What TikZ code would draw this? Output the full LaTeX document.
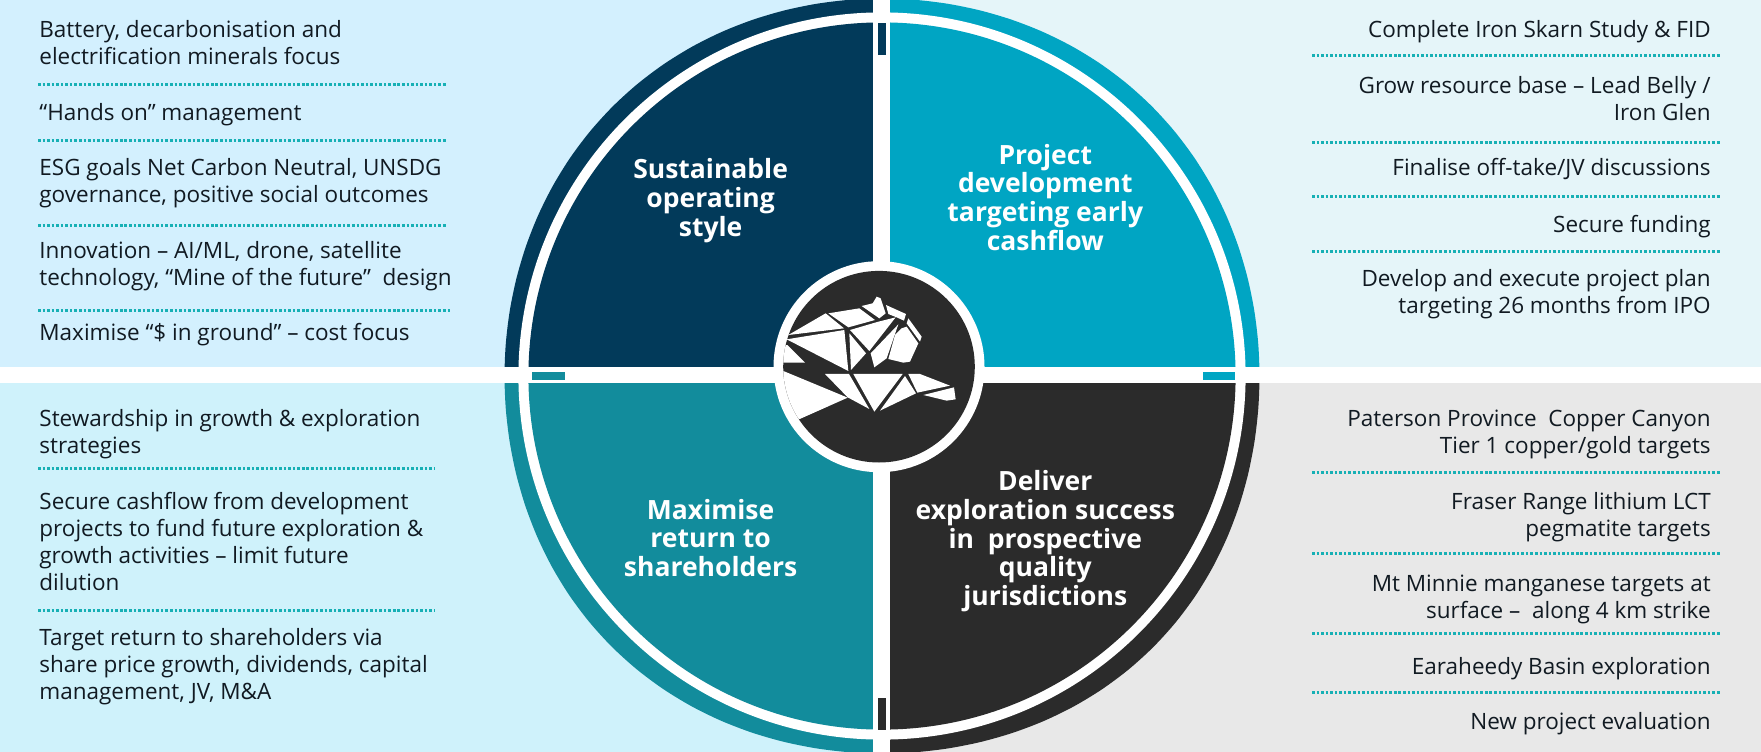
\documentclass[tikz,border=0pt]{standalone}
\usepackage{fontspec}
\setmainfont{Open Sans}
\definecolor{bgLT}{HTML}{D3F0FE}
\definecolor{bgRT}{HTML}{E5F5F9}
\definecolor{bgLB}{HTML}{CFF2FB}
\definecolor{bgRB}{HTML}{E8E8E8}
\definecolor{qNavy}{HTML}{023A5A}
\definecolor{qCyan}{HTML}{00A5C3}
\definecolor{qTeal}{HTML}{128C9C}
\definecolor{qDark}{HTML}{2B2B2B}
\definecolor{dotc}{HTML}{17B0B5}
\definecolor{inkc}{HTML}{111A22}
\newcommand{\myquad}[6]{\begin{scope}\clip (#1,#2) rectangle (#3,#4);
\fill[#5] plot[smooth cycle,domain=0:355,samples=72] ({882+(377.5+#6*sin(2*\x)*sin(2*\x))*cos(\x)},{376+(377.5+#6*sin(2*\x)*sin(2*\x))*sin(\x)});
\fill[white] (882,376) circle (363.6pt);
\fill[#5] (882,376) circle (353.6pt);
\end{scope}}
\tikzset{
 lefttxt/.style={anchor=base west,align=left,inner sep=0pt,text=inkc,font=\fontsize{22.5}{27}\selectfont},
 righttxt/.style={anchor=base east,align=right,inner sep=0pt,text=inkc,font=\fontsize{22.5}{27}\selectfont},
 titletxt/.style={anchor=base,align=center,inner sep=0pt,text=white,font=\fontsize{26.5}{28.6}\selectfont\bfseries},
 divider/.style={dotc,line width=2.6pt,dash pattern=on 2.6pt off 1.95pt},
 logopart/.style={fill=white}
}
\begin{document}
\begin{tikzpicture}[x=1pt,y=-1pt]
\useasboundingbox (0,0) rectangle (1761,752);
% backgrounds
\fill[bgLT] (0,0) rectangle (882,376);
\fill[bgRT] (882,0) rectangle (1761,376);
\fill[bgLB] (0,376) rectangle (882,752);
\fill[bgRB] (882,376) rectangle (1761,752);
% quadrants
\myquad{0}{0}{882}{376}{qNavy}{3.5}
\myquad{882}{0}{1761}{376}{qCyan}{4}
\myquad{0}{376}{882}{752}{qTeal}{5}
\myquad{882}{376}{1761}{752}{qDark}{6}
% bands
\fill[white] (0,367) rectangle (1761,383);
\fill[white] (873,0) rectangle (890,752);
% tabs
\fill[qNavy] (878,22.7) rectangle (886,55);
\fill[qTeal] (532,372.3) rectangle (564.7,380);
\fill[qCyan] (1203,372.3) rectangle (1235,380);
\fill[qDark] (878,698) rectangle (886,730);
% hub
\fill[white] (879,366.7) circle (105.5pt);
\fill[qDark] (879,366.7) circle (95.8pt);
% logo
\begin{scope}
\clip (879,366.7) circle (95.8pt);
\begin{scope}[shift={(780pt,-290pt)},x=0.3333pt,y=-0.3333pt]
\fill[logopart] (25,135) -- (137,70) -- (192,115) -- cycle;
\fill[logopart] (145,70) -- (238,55) -- (285,90) -- (205,112) -- cycle;
\fill[logopart] (245,48) -- (278,40) -- (290,20) -- (302,25) -- (317,70) -- (298,85) -- cycle;
\fill[logopart] (318,45) -- (378,72) -- (372,92) -- (350,82) -- (325,72) -- cycle;
\fill[logopart] (385,85) -- (425,140) -- (420,155) -- (380,100) -- cycle;
\fill[logopart] (365,115) -- (380,110) -- (415,160) -- (390,215) -- (370,218) -- (325,207) -- (345,135) -- cycle;
\fill[logopart] (210,120) -- (295,95) -- (347,82) -- (268,183) -- cycle;
\fill[logopart] (355,103) -- (320,205) -- (283,232) -- (272,190) -- cycle;
\fill[logopart] (208,130) -- (258,190) -- (213,240) -- cycle;
\fill[logopart] (20,148) -- (193,120) -- (205,243) -- cycle;
\fill[logopart] (22,165) -- (75,218) -- (0,218) -- (0,170) -- cycle;
\fill[logopart] (135,252) -- (207,252) -- (268,357) -- (203,322) -- cycle;
\fill[logopart] (220,252) -- (368,252) -- (283,365) -- cycle;
\fill[logopart] (375,258) -- (408,310) -- (300,362) -- cycle;
\fill[logopart] (385,252) -- (420,252) -- (510,287) -- (412,308) -- cycle;
\fill[logopart] (430,315) -- (522,292) -- (527,328) -- (500,332) -- cycle;
\fill[logopart] (0,240) -- (10,243) -- (203,323) -- (57,388) -- (0,410) -- cycle;
\end{scope}
\end{scope}
% titles
\node[titletxt] (t1) at (710.6,236) {Sustainable\\operating\\style};
\node[titletxt] (t2) at (1045.3,250) {Project\\development\\targeting early\\cashflow};
\node[titletxt] (t3) at (710.6,576.3) {Maximise\\return to\\shareholders};
\node[titletxt] (t4) at (1045.3,605.3) {Deliver\\exploration success\\in\ \ prospective\\quality\\jurisdictions};
% top left
\node[lefttxt] (a1) at (39.2,64.2) {Battery, decarbonisation and\\electrification minerals focus};
\node[lefttxt] (a2) at (39.2,120.4) {“Hands on” management};
\node[lefttxt] (a3) at (39.2,202.8) {ESG goals Net Carbon Neutral, UNSDG\\governance, positive social outcomes};
\node[lefttxt] (a4) at (39.2,285.4) {Innovation – AI/ML, drone, satellite\\technology, “Mine of the future”\ \ design};
\node[lefttxt] (a5) at (39.2,340.4) {Maximise “\$ in ground” – cost focus};
\draw[divider] (38,84.3) -- (446.7,84.3);
\draw[divider] (38,140.3) -- (446.7,140.3);
\draw[divider] (38,225.3) -- (446.7,225.3);
\draw[divider] (38,310.3) -- (452,310.3);
% top right
\node[righttxt] (b1) at (1710.9,37.2) {Complete Iron Skarn Study \& FID};
\node[righttxt] (b2) at (1710.9,120.2) {Grow resource base – Lead Belly /\\Iron Glen};
\node[righttxt] (b3) at (1710.9,175.4) {Finalise off-take/JV discussions};
\node[righttxt] (b4) at (1710.9,232) {Secure funding};
\node[righttxt] (b5) at (1710.9,313.4) {Develop and execute project plan\\targeting 26 months from IPO};
\draw[divider] (1312,55.3) -- (1720,55.3);
\draw[divider] (1312,142.3) -- (1720,142.3);
\draw[divider] (1312,196.3) -- (1720,196.3);
\draw[divider] (1312,251.3) -- (1720,251.3);
% bottom left
\node[lefttxt] (c1) at (39.2,453.3) {Stewardship in growth \& exploration\\strategies};
\node[lefttxt] (c2) at (39.2,590) {Secure cashflow from development\\projects to fund future exploration \&\\growth activities – limit future\\dilution};
\node[lefttxt] (c3) at (39.2,699.2) {Target return to shareholders via\\share price growth, dividends, capital\\management, JV, M\&A};
\draw[divider] (38,468.3) -- (434,468.3);
\draw[divider] (38,610.3) -- (434,610.3);
% bottom right
\node[righttxt] (d1) at (1710.9,453.3) {Paterson Province\ \ Copper Canyon\\Tier 1 copper/gold targets};
\node[righttxt] (d2) at (1710.9,536.4) {Fraser Range lithium LCT\\pegmatite targets};
\node[righttxt] (d3) at (1710.9,618.4) {Mt Minnie manganese targets at\\surface –\ \ along 4 km strike};
\node[righttxt] (d4) at (1710.9,674.2) {Earaheedy Basin exploration};
\node[righttxt] (d5) at (1710.9,729.6) {New project evaluation};
\draw[divider] (1312,472.3) -- (1720,472.3);
\draw[divider] (1312,553.3) -- (1720,553.3);
\draw[divider] (1312,633.3) -- (1720,633.3);
\draw[divider] (1312,692.3) -- (1720,692.3);
\end{tikzpicture}
\end{document}
